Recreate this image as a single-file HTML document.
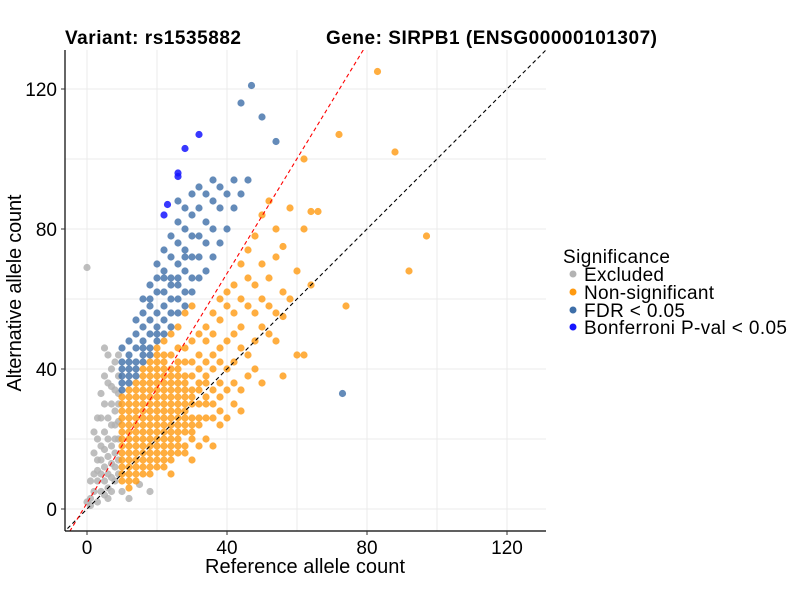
<!DOCTYPE html>
<html><head><meta charset="utf-8"><style>
body{margin:0;background:#fff;width:800px;height:600px;overflow:hidden}
svg text{font-family:"Liberation Sans",Arial,sans-serif}
</style></head><body>
<svg id="chart" width="800" height="600">
<text x="65" y="44" font-size="19" font-weight="bold" textLength="176">Variant: rs1535882</text>
<text x="326" y="44" font-size="19" font-weight="bold" textLength="331">Gene: SIRPB1 (ENSG00000101307)</text>
<defs><clipPath id="clip"><rect x="65" y="50" width="481" height="481"/></clipPath></defs>
<g id="grid"></g>
<g id="pts" clip-path="url(#clip)"></g>
<g id="lines" clip-path="url(#clip)"></g>
<line x1="65" y1="50" x2="65" y2="531" stroke="#000" stroke-width="1.2"/>
<line x1="65" y1="531" x2="546" y2="531" stroke="#000" stroke-width="1.2"/>
<g id="ticks"></g>
<text x="305" y="573" font-size="20" text-anchor="middle" textLength="200">Reference allele count</text>
<text transform="translate(21,293) rotate(-90)" font-size="20" text-anchor="middle" textLength="197">Alternative allele count</text>
<g>
<text x="563" y="263" font-size="19" textLength="107">Significance</text>
<g><circle cx="573" cy="274" r="3.5" fill="#b3b3b3"/><text x="584" y="281" font-size="19" textLength="80">Excluded</text></g>
<g><circle cx="573" cy="292" r="3.5" fill="#ff9a10"/><text x="584" y="299" font-size="19" textLength="130">Non-significant</text></g>
<g><circle cx="573" cy="310" r="3.5" fill="#3d6ea8"/><text x="584" y="317" font-size="19" textLength="101">FDR &lt; 0.05</text></g>
<g><circle cx="573" cy="327" r="3.5" fill="#1515ff"/><text x="584" y="334" font-size="19" textLength="203">Bonferroni P-val &lt; 0.05</text></g>
</g>
</svg>
<script>
const xTicks=[0,40,80,120];
const yTicks=[0,40,80,120];
const minorTicks=[20,60,100];
const grayCols=[[0,[2,69]],[1,[1,3,8]],[2,[5,10,16,22]],[3,[2,8,11,14,20,26]],[4,[5,10,14,18,26,33]],[5,[4,8,12,17,22,30,38,46]],[6,[3,6,10,15,20,26,36,44]],[7,[5,9,13,18,24,30,35,40]],[8,[8,12,16,20,24,28,34,42]],[9,[10,14,20,25,30,33,38,44]],[10,[5]],[12,[3]],[15,[7]],[18,[5]]];
const orangeCols=[[10,[8,10,12,14,16,18,20,22,24,26,28,30,32]],[12,[6,8,10,12,14,16,18,20,22,24,26,28,30,32,34]],[14,[8,10,12,14,16,18,20,22,24,26,28,30,32,34,36]],[16,[10,12,14,16,18,20,22,24,26,28,30,32,34,36,38,40]],[18,[10,12,14,16,18,20,22,24,26,28,30,32,34,36,38,40,42]],[20,[12,14,16,18,20,22,24,26,28,30,32,34,36,38,40,42,44,46]],[22,[12,14,16,18,20,22,24,26,28,30,32,34,36,38,40,42,44,48]],[24,[10,14,16,18,20,22,24,26,28,30,32,34,36,38,40,44,50]],[26,[16,18,20,22,24,26,28,30,32,34,36,38,40,42,46,52]],[28,[16,18,22,24,26,28,30,32,34,36,38,42,46,56]],[30,[14,20,22,24,26,30,32,34,38,42,48,58]],[32,[18,24,26,30,34,36,40,44,50]],[34,[20,26,30,32,36,38,42,48,52]],[36,[18,26,30,34,40,44,50,56]],[38,[24,28,32,36,42,46,54,60]],[40,[26,34,40,48,58,62]],[42,[30,36,42,50,56,64]],[44,[28,34,46,52,60,70]],[46,[38,44,58,66,74]],[48,[40,48,56,64,78]],[50,[36,52,60,70,84]],[52,[50,58,66,88]],[54,[48,56,72,80]],[56,[38,55,62,75]],[58,[60,86]],[60,[44,68]],[62,[44,80,100]],[64,[64,85]],[66,[85]],[72,[107]],[74,[58]],[83,[125]],[88,[102]],[92,[68]],[97,[78]]];
const blueCols=[[10,[34,36,38,40,42,46]],[12,[36,38,40,42,44,48]],[14,[38,40,42,46,50,54]],[16,[42,44,46,48,52,56,60]],[18,[44,46,50,54,58,60,64]],[20,[48,50,52,56,62,66,70]],[22,[50,54,58,62,66,68,74]],[24,[52,56,60,64,66,72,78]],[26,[56,60,64,66,70,76,82,88]],[28,[58,62,68,72,74,80,86]],[30,[62,66,72,78,84,90]],[32,[66,72,78,86,92]],[34,[68,76,82,90]],[36,[72,80,88,94]],[38,[76,86,92]],[40,[80,90]],[42,[86,94]],[44,[90,116]],[46,[94]],[47,[121]],[50,[112]],[54,[105]],[73,[33]]];
const bonfCols=[[22,[84]],[23,[87]],[26,[95,96]],[28,[103]],[32,[107]]];
const redSlope=1.64, redIntercept=1.7;

const svg=document.getElementById('chart');
const NS='http://www.w3.org/2000/svg';
const xs=v=>87+v*3.5, ys=v=>509-v*3.5;
function mk(t,a,p){const e=document.createElementNS(NS,t);for(const k in a)e.setAttribute(k,a[k]);p.appendChild(e);return e;}
const grid=document.getElementById('grid');
xTicks.concat(minorTicks).forEach(v=>{
  const l=mk('line',{x1:xs(v),x2:xs(v),y1:50,y2:531,stroke:'#ebebeb','stroke-width':1},grid);
  
  
  const m=mk('line',{x1:65,x2:546,y1:ys(v),y2:ys(v),stroke:'#ebebeb','stroke-width':1},grid);
  
  
});
const pts=document.getElementById('pts');
function draw(cols,fill,op,name){cols.forEach(c=>c[1].forEach(y=>{
  const e=mk('circle',{cx:xs(c[0]),cy:ys(y),r:3.6,fill:fill,'fill-opacity':op},pts);
  
  
}));}
draw(grayCols,'#b3b3b3',0.85,'excluded-point');
draw(orangeCols,'#ff9a10',0.8,'non-significant-point');
draw(blueCols,'#3d6ea8',0.8,'fdr-point');
draw(bonfCols,'#1515ff',0.85,'bonferroni-point');
const lines=document.getElementById('lines');
const idl=mk('line',{x1:xs(-7),y1:ys(-7),x2:xs(135),y2:ys(135),stroke:'#000','stroke-width':1.1,'stroke-dasharray':'4,3'},lines);


const rl=mk('line',{x1:xs(-6),y1:ys(-6*redSlope+redIntercept),x2:xs(80),y2:ys(80*redSlope+redIntercept),stroke:'#ff0000','stroke-width':1.1,'stroke-dasharray':'4,3'},lines);


const ticks=document.getElementById('ticks');
xTicks.forEach(v=>{
  mk('line',{x1:xs(v),x2:xs(v),y1:531,y2:535,stroke:'#333'},ticks);
  const t=mk('text',{x:xs(v),y:554,'font-size':19,'text-anchor':'middle'},ticks);t.textContent=v;
  
  
});
yTicks.forEach(v=>{
  mk('line',{x1:61,x2:65,y1:ys(v),y2:ys(v),stroke:'#333'},ticks);
  const t=mk('text',{x:57,y:ys(v)+7,'font-size':19,'text-anchor':'end'},ticks);t.textContent=v;
  
  
});
</script>
</body></html>
